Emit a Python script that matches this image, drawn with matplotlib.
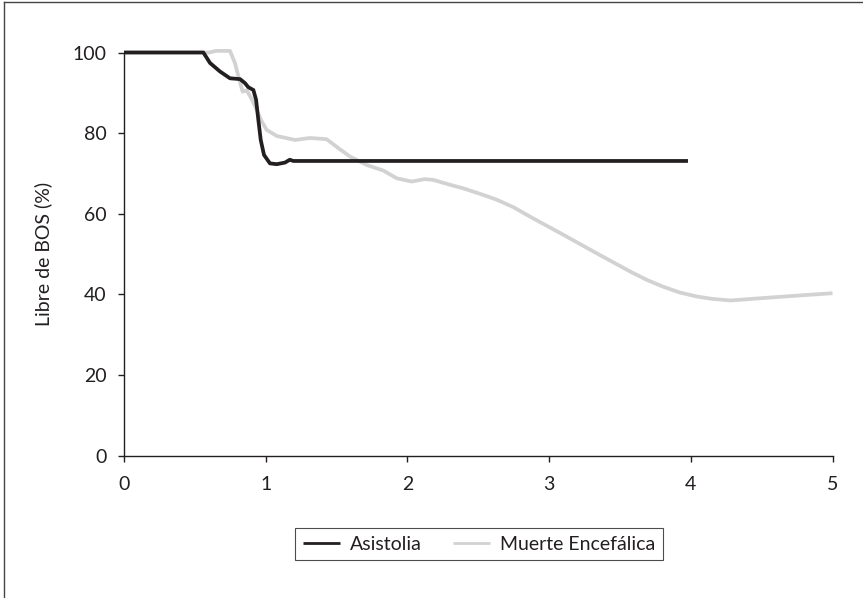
import matplotlib
matplotlib.use("Agg")
import matplotlib.pyplot as plt
from matplotlib.lines import Line2D

plt.rcParams['font.family'] = ['Lato', 'DejaVu Sans']

# Asistolia (black)
asis_x = [0.0, 0.56, 0.607, 0.677, 0.748, 0.819, 0.854, 0.877, 0.913, 0.932,
          0.948, 0.965, 0.988, 1.03, 1.078, 1.136, 1.17, 1.195, 3.98]
asis_y = [100, 100, 97.4, 95.3, 93.6, 93.4, 92.4, 91.4, 90.7, 88.3,
          83.3, 78.3, 74.6, 72.5, 72.3, 72.7, 73.4, 73.1, 73.1]

# Muerte Encefálica (gris)
me_x = [0.0, 0.6, 0.65, 0.748, 0.783, 0.814, 0.837, 0.866, 0.9, 0.936, 0.972,
        1.007, 1.078, 1.207, 1.312, 1.43, 1.512, 1.595, 1.713, 1.831, 1.925,
        2.03, 2.124, 2.183, 2.3, 2.395, 2.5, 2.63, 2.75, 2.865, 3.1, 3.336,
        3.571, 3.69, 3.806, 3.92, 4.04, 4.15, 4.28, 4.51, 4.75, 5.0]
me_y = [100, 100, 100.4, 100.4, 97.4, 93.2, 90.3, 90.6, 88.5, 85.8, 82.9,
        80.8, 79.3, 78.3, 78.8, 78.5, 76.3, 74.2, 72.1, 70.7, 68.8,
        68.0, 68.6, 68.4, 67.2, 66.3, 65.1, 63.5, 61.6, 59.3, 54.8, 50.2,
        45.7, 43.6, 41.9, 40.5, 39.5, 38.9, 38.5, 39.1, 39.7, 40.3]

x_ticks = [0, 1, 2, 3, 4, 5]
y_ticks = [0, 20, 40, 60, 80, 100]

W, H = 863, 598
fig = plt.figure(figsize=(W / 100, H / 100), dpi=100)
ax = fig.add_axes([124 / W, 1 - 455.7 / H, (832.5 - 124) / W, (455.7 - 52.5) / H])

ax.plot(me_x, me_y, color='#d2d2d2', lw=2.7, label='Muerte Encefálica',
        clip_on=False, zorder=2, solid_capstyle='butt', solid_joinstyle='round')
ax.plot(asis_x, asis_y, color='#231f20', lw=2.7, label='Asistolia',
        clip_on=False, zorder=3, solid_capstyle='butt', solid_joinstyle='round')

ax.set_xlim(0, 5)
ax.set_ylim(0, 100)
ax.set_xticks(x_ticks)
ax.set_yticks(y_ticks)
ax.spines['top'].set_visible(False)
ax.spines['right'].set_visible(False)
for s in ['left', 'bottom']:
    ax.spines[s].set_linewidth(1.0)
    ax.spines[s].set_color('#231f20')
ax.tick_params(direction='out', length=4.5, width=1.0, colors='#231f20',
               labelsize=14, pad=8)
ax.tick_params(axis='x', pad=10)
ax.set_ylabel('Libre de BOS (%)', fontsize=14, color='#231f20', labelpad=15)

handles, labels = ax.get_legend_handles_labels()
leg = fig.legend(handles[::-1], labels[::-1], loc='center',
                 bbox_to_anchor=(479 / W, 1 - 544 / H), ncol=2,
                 fontsize=14, frameon=True, fancybox=False, edgecolor='#231f20',
                 handlelength=1.9, handletextpad=0.5, columnspacing=1.6,
                 borderpad=0.4, borderaxespad=0)
leg.get_frame().set_linewidth(0.8)
for t in leg.get_texts():
    t.set_color('#231f20')
for h in leg.get_lines():
    h.set_linewidth(2.0)

# outer frame (left and top edges visible)
fig.add_artist(Line2D([3.5 / W, 3.5 / W], [0, 1 - 2 / H], transform=fig.transFigure,
                      color='#444444', lw=1.0))
fig.add_artist(Line2D([3.5 / W, 1], [1 - 2 / H, 1 - 2 / H], transform=fig.transFigure,
                      color='#444444', lw=1.0))

fig.savefig('out.png', dpi=100)
